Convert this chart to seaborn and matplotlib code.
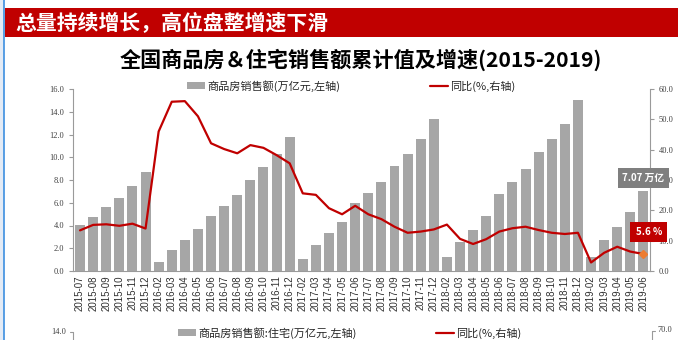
import matplotlib
matplotlib.use('Agg')
import numpy as np
import pandas as pd
import matplotlib.pyplot as plt
import seaborn as sns
from matplotlib.patches import Rectangle, Patch
from matplotlib.lines import Line2D

months = ['2015-07', '2015-08', '2015-09', '2015-10', '2015-11', '2015-12',
          '2016-02', '2016-03', '2016-04', '2016-05', '2016-06', '2016-07', '2016-08',
          '2016-09', '2016-10', '2016-11', '2016-12',
          '2017-02', '2017-03', '2017-04', '2017-05', '2017-06', '2017-07', '2017-08',
          '2017-09', '2017-10', '2017-11', '2017-12',
          '2018-02', '2018-03', '2018-04', '2018-05', '2018-06', '2018-07', '2018-08',
          '2018-09', '2018-10', '2018-11', '2018-12',
          '2019-02', '2019-03', '2019-04', '2019-05', '2019-06']

sales = [4.08, 4.79, 5.66, 6.45, 7.45, 8.73,
         0.82, 1.83, 2.74, 3.65, 4.86, 5.74, 6.68, 8.02, 9.13, 10.26, 11.76,
         1.09, 2.29, 3.31, 4.34, 5.95, 6.83, 7.79, 9.23, 10.29, 11.57, 13.38,
         1.20, 2.52, 3.60, 4.86, 6.74, 7.85, 8.94, 10.43, 11.60, 12.95, 15.00,
         1.26, 2.72, 3.90, 5.19, 7.07]

growth = [13.4, 15.2, 15.4, 14.9, 15.6, 14.0,
          46.0, 55.8, 56.0, 51.0, 42.1, 40.2, 38.8, 41.5, 40.6, 38.2, 35.5,
          25.6, 25.1, 20.7, 18.7, 21.5, 18.7, 17.1, 14.6, 12.6, 13.0, 13.7,
          15.3, 10.6, 8.9, 10.5, 13.0, 14.1, 14.6, 13.5, 12.6, 12.2, 12.6,
          2.8, 6.0, 8.0, 6.4, 5.6]

left_ticks = [0, 2, 4, 6, 8, 10, 12, 14, 16]
right_ticks = [0, 10, 20, 30, 40, 50, 60]

banner_text = '总量持续增长，高位盘整增速下滑'
title_text = '全国商品房＆住宅销售额累计值及增速(2015-2019)'
bar_label = '商品房销售额(万亿元,左轴)'
line_label = '同比(%,右轴)'
bar_label2 = '商品房销售额:住宅(万亿元,左轴)'

sns.set_theme(style='white')
plt.rcParams['font.family'] = ['Noto Sans CJK SC', 'DejaVu Sans']
plt.rcParams['axes.unicode_minus'] = False

BAR = '#a6a6a6'
RED = '#c00000'
GREY_AX = '#9a9a9a'
W, H = 678, 340

fig = plt.figure(figsize=(6.78, 3.4), dpi=100)
fig.patch.set_facecolor('white')

# left border strip and banner
fig.patches.append(Rectangle((0, 0), 3.5 / W, 1, transform=fig.transFigure,
                             facecolor='#e4ebf5', edgecolor='none', zorder=0))
fig.lines.append(Line2D([4 / W, 4 / W], [0, 1], transform=fig.transFigure,
                        color='#3d8fe0', lw=1.2))
fig.patches.append(Rectangle((4.5 / W, 1 - 37 / H), 1, 29 / H, transform=fig.transFigure,
                             facecolor=RED, edgecolor='none', zorder=1))
fig.text(15 / W, 1 - 22.5 / H, banner_text, color='white', fontsize=15, fontweight='bold',
         ha='left', va='center')
fig.text(361 / W, 1 - 60 / H, title_text, color='black', fontsize=15.2, fontweight='bold',
         ha='center', va='center')

ax = fig.add_axes([72.7 / W, 1 - 271 / H, (650 - 72.7) / W, (271 - 89) / H])
df = pd.DataFrame({'month': months, 'sales': sales, 'growth': growth})
sns.barplot(data=df, x='month', y='sales', color=BAR, saturation=1, width=0.76,
            edgecolor='none', ax=ax, zorder=2)
ax.set_xlim(-0.56, len(months) - 1 + 0.48)
ax.set_ylim(0, 16)
ax.set_yticks(left_ticks)
ax.set_yticklabels([f'{v:.1f}' for v in left_ticks],
                   family=['Liberation Serif', 'DejaVu Serif'], fontsize=6, color='#404040')
ax.set_xlabel('')
ax.set_ylabel('')
ax.set_xticks(range(len(months)))
ax.set_xticklabels(months, rotation=90, family=['Liberation Sans', 'DejaVu Sans'],
                   fontsize=7, color='#303030')
ax.set_xticks(np.arange(len(months) + 1) - 0.5, minor=True)
ax.tick_params(axis='x', which='major', length=0, pad=3)
ax.tick_params(axis='x', which='minor', length=3, color=GREY_AX, width=0.8, direction='out')
ax.tick_params(axis='y', length=3, color=GREY_AX, width=0.8, direction='out', pad=3)
for s in ['top', 'right']:
    ax.spines[s].set_visible(False)
for s in ['left', 'bottom']:
    ax.spines[s].set_color(GREY_AX)
    ax.spines[s].set_linewidth(0.8)
ax.grid(False)

ax2 = ax.twinx()
sns.lineplot(x=np.arange(len(months)), y=growth, ax=ax2, color=RED, lw=1.6, zorder=3)
ax2.plot([len(months) - 1], [growth[-1]], marker='D', color='#ed7d31', markersize=4.5,
         linestyle='none', zorder=4)
ax2.set_ylim(0, 60)
ax2.set_yticks(right_ticks)
ax2.set_yticklabels([f'{v:.1f}' for v in right_ticks],
                    family=['Liberation Serif', 'DejaVu Serif'], fontsize=6, color='#404040')
ax2.tick_params(axis='y', length=3, color=GREY_AX, width=0.8, direction='out', pad=3)
for s in ['top', 'left', 'bottom']:
    ax2.spines[s].set_visible(False)
ax2.spines['right'].set_color(GREY_AX)
ax2.spines['right'].set_linewidth(0.8)
ax2.grid(False)
ax2.set_xlim(ax.get_xlim())

# value annotations (drawn on top of the right tick labels, as in the reference)
ax2.text(len(months) - 1, sales[-1] + 1.1, f'{sales[-1]:.2f} 万亿', color='white',
         fontsize=7, fontweight='bold', ha='center', va='center', zorder=6,
         transform=ax.transData,
         bbox=dict(boxstyle='square,pad=0.5', facecolor='#7f7f7f', edgecolor='none'),
         clip_on=False)
ax2.text(len(months) - 1 + 0.4, growth[-1] + 7.3, f'{growth[-1]:.1f} %', color='white',
         fontsize=7, fontweight='bold', ha='center', va='center', zorder=6,
         bbox=dict(boxstyle='square,pad=0.55', facecolor=RED, edgecolor='none'),
         clip_on=False)

# legends
h_bar = Patch(facecolor=BAR, edgecolor='none')
h_line = Line2D([0], [0], color=RED, lw=1.6)
leg_kw = dict(frameon=False, borderpad=0, borderaxespad=0, handletextpad=0.2,
              handlelength=1.6, handleheight=0.6, prop={'size': 8})
fig.legend([h_bar], [bar_label], loc='center left', bbox_to_anchor=(187 / W, 1 - 86 / H), **leg_kw)
fig.legend([h_line], [line_label], loc='center left', bbox_to_anchor=(430 / W, 1 - 86 / H), **leg_kw)

# next chart (partially visible at the bottom)
fig.legend([h_bar], [bar_label2], loc='center left', bbox_to_anchor=(178 / W, 1 - 333 / H), **leg_kw)
fig.legend([h_line], [line_label], loc='center left', bbox_to_anchor=(436 / W, 1 - 333 / H), **leg_kw)
fig.text(66 / W, 1 - 332 / H, '14.0', family=['Liberation Serif', 'DejaVu Serif'],
         fontsize=6, color='#404040', ha='right', va='center')
fig.lines.append(Line2D([73 / W, 73 / W], [0, 1 - 332 / H], transform=fig.transFigure,
                        color=GREY_AX, lw=0.8))
fig.lines.append(Line2D([70 / W, 73 / W], [1 - 332 / H, 1 - 332 / H], transform=fig.transFigure,
                        color=GREY_AX, lw=0.8))
fig.text(658 / W, 1 - 330 / H, '70.0', family=['Liberation Serif', 'DejaVu Serif'],
         fontsize=6, color='#404040', ha='left', va='center')
fig.lines.append(Line2D([652 / W, 652 / W], [0, 1 - 331 / H], transform=fig.transFigure,
                        color=GREY_AX, lw=0.8))
fig.lines.append(Line2D([652 / W, 655 / W], [1 - 331 / H, 1 - 331 / H], transform=fig.transFigure,
                        color=GREY_AX, lw=0.8))

fig.savefig('out.png', dpi=100)
